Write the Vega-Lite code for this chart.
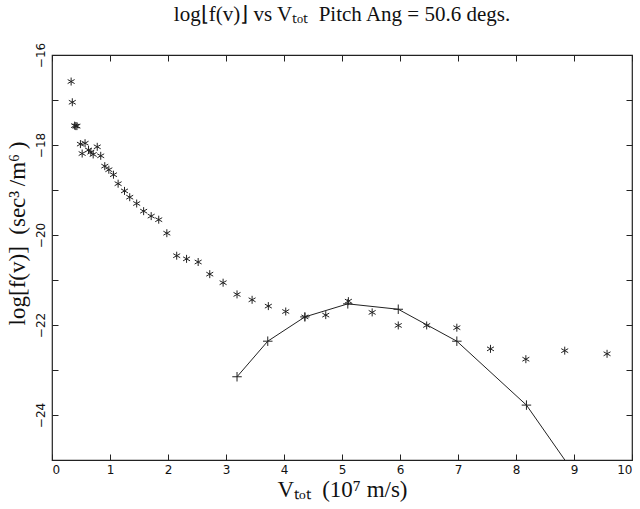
{
  "$schema": "https://vega.github.io/schema/vega-lite/v6.json",
  "autosize": "none",
  "width": 580,
  "height": 405,
  "padding": {"left": 52, "top": 55, "right": 8, "bottom": 49},
  "background": "white",
  "title": {
    "text": "log⌊f(v)⌋ vs Vₜₒₜ\u00a0\u00a0Pitch Ang = 50.6 degs.",
    "font": "Liberation Serif",
    "fontSize": 21,
    "fontWeight": "normal",
    "color": "#111",
    "anchor": "middle",
    "offset": 17
  },
  "config": {
    "view": {"stroke": "#222", "strokeWidth": 1.2},
    "axis": {
      "grid": false,
      "domain": false,
      "tickColor": "#222",
      "tickSize": -6,
      "tickWidth": 1,
      "labelFont": "DejaVu Sans",
      "labelFontSize": 12,
      "labelColor": "#111",
      "titleFont": "Liberation Serif",
      "titleFontSize": 23,
      "titleFontWeight": "normal",
      "titleColor": "#111"
    }
  },
  "resolve": {"axis": {"x": "independent", "y": "independent"}},
  "datasets": {
    "stars": [
      {"v": 0.33, "logf": -16.59},
      {"v": 0.35, "logf": -17.05},
      {"v": 0.39, "logf": -17.57},
      {"v": 0.41, "logf": -17.58},
      {"v": 0.43, "logf": -17.58},
      {"v": 0.49, "logf": -17.98},
      {"v": 0.57, "logf": -17.96},
      {"v": 0.52, "logf": -18.19},
      {"v": 0.63, "logf": -18.11},
      {"v": 0.67, "logf": -18.16},
      {"v": 0.71, "logf": -18.21},
      {"v": 0.78, "logf": -18.04},
      {"v": 0.84, "logf": -18.24},
      {"v": 0.91, "logf": -18.47},
      {"v": 0.98, "logf": -18.55},
      {"v": 1.06, "logf": -18.66},
      {"v": 1.14, "logf": -18.86},
      {"v": 1.25, "logf": -19.02},
      {"v": 1.34, "logf": -19.16},
      {"v": 1.46, "logf": -19.30},
      {"v": 1.58, "logf": -19.47},
      {"v": 1.71, "logf": -19.58},
      {"v": 1.84, "logf": -19.66},
      {"v": 1.98, "logf": -19.96},
      {"v": 2.15, "logf": -20.46},
      {"v": 2.32, "logf": -20.53},
      {"v": 2.52, "logf": -20.60},
      {"v": 2.72, "logf": -20.87},
      {"v": 2.95, "logf": -21.06},
      {"v": 3.19, "logf": -21.32},
      {"v": 3.45, "logf": -21.44},
      {"v": 3.73, "logf": -21.58},
      {"v": 4.03, "logf": -21.70},
      {"v": 4.36, "logf": -21.82},
      {"v": 4.72, "logf": -21.78},
      {"v": 5.11, "logf": -21.47},
      {"v": 5.52, "logf": -21.72},
      {"v": 5.97, "logf": -22.01},
      {"v": 6.46, "logf": -22.01},
      {"v": 6.98, "logf": -22.06},
      {"v": 7.56, "logf": -22.53},
      {"v": 8.17, "logf": -22.76},
      {"v": 8.84, "logf": -22.57},
      {"v": 9.57, "logf": -22.64}
    ],
    "fit": [
      {"v": 3.19, "logf": -23.15},
      {"v": 3.72, "logf": -22.36},
      {"v": 4.36, "logf": -21.82},
      {"v": 5.10, "logf": -21.53},
      {"v": 5.97, "logf": -21.65},
      {"v": 6.98, "logf": -22.36},
      {"v": 8.18, "logf": -23.78},
      {"v": 9.57, "logf": -26.34}
    ]
  },
  "layer": [
    {
      "data": {"name": "stars"},
      "mark": {
        "type": "point",
        "shape": "M0,-1L0,1M-0.87,-0.5L0.87,0.5M-0.87,0.5L0.87,-0.5",
        "filled": false,
        "stroke": "#222",
        "strokeWidth": 1,
        "size": 64,
        "opacity": 1,
        "clip": true
      },
      "encoding": {
        "x": {
          "field": "v", "type": "quantitative",
          "scale": {"domain": [0, 10], "nice": false, "zero": false},
          "axis": {
            "orient": "bottom",
            "values": [0, 1, 2, 3, 4, 5, 6, 7, 8, 9, 10],
            "format": "d",
            "labelPadding": 10,
            "title": "Vₜₒₜ\u00a0\u00a0(10⁷ m/s)",
            "titlePadding": 3
          }
        },
        "y": {
          "field": "logf", "type": "quantitative",
          "scale": {"domain": [-25, -16], "nice": false, "zero": false},
          "axis": {
            "orient": "left",
            "values": [-25, -24, -23, -22, -21, -20, -19, -18, -17, -16],
            "labelExpr": "datum.value % 2 == 0 ? datum.label : ''",
            "labelAngle": -90,
            "labelAlign": "center",
            "labelBaseline": "bottom",
            "labelPadding": 11,
            "title": "log[f(v)]\u00a0\u00a0(sec³\u2009/m⁶\u2009)",
            "titlePadding": 5,
            "titleY": 178
          }
        }
      }
    },
    {
      "data": {"name": "fit"},
      "mark": {"type": "line", "color": "#222", "strokeWidth": 1, "clip": true},
      "encoding": {
        "x": {
          "field": "v", "type": "quantitative",
          "axis": {"orient": "top", "values": [0, 1, 2, 3, 4, 5, 6, 7, 8, 9, 10], "labels": false, "title": null}
        },
        "y": {
          "field": "logf", "type": "quantitative",
          "axis": {"orient": "right", "values": [-25, -24, -23, -22, -21, -20, -19, -18, -17, -16], "labels": false, "title": null}
        }
      }
    },
    {
      "data": {"name": "fit"},
      "mark": {
        "type": "point",
        "shape": "M-1,0L1,0M0,-1L0,1",
        "filled": false,
        "stroke": "#222",
        "strokeWidth": 1,
        "size": 90,
        "opacity": 1,
        "clip": true
      },
      "encoding": {
        "x": {"field": "v", "type": "quantitative", "axis": null},
        "y": {"field": "logf", "type": "quantitative", "axis": null}
      }
    }
  ]
}
